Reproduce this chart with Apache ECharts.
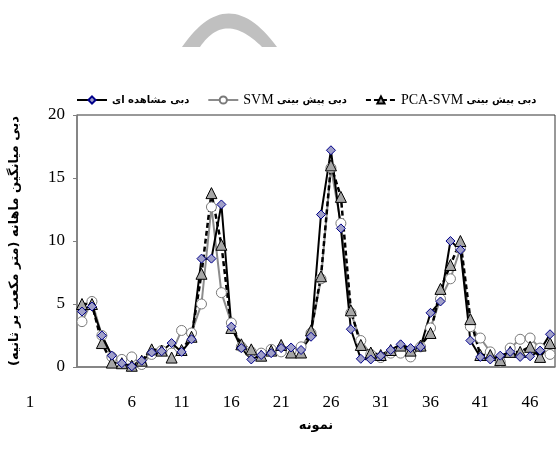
<!DOCTYPE html>
<html>
<head>
<meta charset="utf-8">
<script src="https://cdn.jsdelivr.net/npm/echarts@6/dist/echarts.min.js"></script>
<style>
    html, body { margin: 0; padding: 0; background: #fff; }
    #main { width: 557px; height: 451px; }
</style>
</head>
<body>
<div id="main"></div>
<script>
// شماره نمونه ها
var samples = [];
for (var i = 1; i <= 48; i++) samples.push(String(i));

// دبی مشاهده ای
var observed = [4.4, 4.8, 2.5, 0.9, 0.3, 0.05, 0.5, 1.15, 1.25, 1.9,
    1.2, 2.2, 8.6, 8.6, 12.9, 3.2, 1.5, 0.6, 0.95, 1.1,
    1.5, 1.55, 1.35, 2.4, 12.1, 17.2, 11.0, 3.0, 0.65, 0.6,
    0.9, 1.35, 1.8, 1.5, 1.6, 4.3, 5.2, 10.0, 9.3, 2.1,
    0.8, 0.6, 0.9, 1.2, 0.8, 0.85, 1.3, 2.6];

// دبی پیش بینی SVM
var svm = [3.6, 5.2, 2.5, 0.8, 0.6, 0.8, 0.2, 1.0, 1.3, 1.1,
    2.9, 2.7, 5.0, 12.7, 5.9, 3.5, 1.6, 1.2, 1.1, 1.4,
    1.2, 1.3, 1.6, 2.7, 7.0, 15.8, 11.4, 4.3, 2.1, 1.0,
    0.75, 1.1, 1.1, 0.8, 1.6, 3.1, 5.4, 7.0, 9.4, 3.2,
    2.3, 1.2, 0.4, 1.5, 2.2, 2.3, 1.5, 1.0];

// دبی پیش بینی PCA-SVM
var pcaSvm = [5.0, 5.0, 1.9, 0.35, 0.3, 0.1, 0.5, 1.4, 1.3, 0.75,
    1.35, 2.4, 7.4, 13.8, 9.7, 3.1, 1.8, 1.4, 0.9, 1.3,
    1.75, 1.15, 1.15, 2.9, 7.2, 16.0, 13.5, 4.5, 1.75, 1.15,
    0.95, 1.35, 1.7, 1.3, 1.7, 2.7, 6.2, 8.1, 10.0, 3.8,
    0.95, 0.95, 0.55, 1.2, 1.2, 1.6, 0.8, 1.9];

var yTicks = [0, 5, 10, 15, 20];

var serif = 'Liberation Serif, DejaVu Serif, serif';
var faFont = 'DejaVu Sans, sans-serif';

var nameObs = 'دبی مشاهده ای';
var nameSvm = 'دبی پیش بینی SVM';
var namePca = 'دبی پیش بینی PCA-SVM';

// شکل خاکستری بالای نمودار (کمان)
function quad(p0, p1, p2, n) {
    var pts = [];
    for (var k = 0; k <= n; k++) {
        var t = k / n;
        var a = (1 - t) * (1 - t), b = 2 * t * (1 - t), c = t * t;
        pts.push([a * p0[0] + b * p1[0] + c * p2[0], a * p0[1] + b * p1[1] + c * p2[1]]);
    }
    return pts;
}
var arcPts = quad([182, 47], [228, -20], [277, 47], 30)
    .concat(quad([262, 47], [225, 10], [200, 47], 30));

var myChart = echarts.init(document.getElementById('main'));
var option = {
    animation: false,
    backgroundColor: '#fff',
    graphic: [{
        type: 'polygon',
        shape: { points: arcPts },
        style: { fill: '#c0c0c0' },
        silent: true
    }],
    legend: {
        left: 76,
        top: 93,
        width: 481,
        itemGap: 18,
        itemWidth: 30,
        itemHeight: 9,
        padding: 0,
        data: [nameObs, nameSvm, namePca],
        formatter: function (name) {
            if (name === nameSvm) return '{en|SVM} {fa|دبی پیش بینی}';
            if (name === namePca) return '{en|PCA-SVM} {fa|دبی پیش بینی}';
            return '{fa|' + name + '}';
        },
        textStyle: {
            rich: {
                fa: { fontFamily: faFont, fontWeight: 'bold', fontSize: 10, color: '#000' },
                en: { fontFamily: serif, fontSize: 14, color: '#000' }
            }
        }
    },
    grid: {
        left: 74,
        right: 2,
        top: 115,
        bottom: 84,
        show: true,
        borderColor: '#333',
        borderWidth: 1
    },
    xAxis: {
        type: 'category',
        data: samples,
        boundaryGap: true,
        name: 'نمونه',
        nameLocation: 'middle',
        nameGap: 52,
        nameTextStyle: { fontFamily: faFont, fontWeight: 'bold', fontSize: 13, color: '#000' },
        axisLine: { lineStyle: { color: '#808080', width: 1.5 } },
        axisTick: { interval: 2, length: 5, lineStyle: { color: '#808080' } },
        axisLabel: {
            interval: 4,
            margin: 27,
            fontFamily: serif,
            fontSize: 17,
            color: '#000',
            formatter: function (v) {
                if (v === '1') return '{one|1}';
                return v;
            },
            rich: {
                one: { fontFamily: serif, fontSize: 17, color: '#000', padding: [0, 104, 0, 0] }
            }
        },
        splitLine: { show: false }
    },
    yAxis: {
        type: 'value',
        min: 0,
        max: 20,
        interval: 5,
        name: '\u200Fدبی میانگین ماهانه (متر مکعب بر ثانیه)\u200F',
        nameLocation: 'middle',
        nameRotate: 90,
        nameGap: 56,
        nameTextStyle: { fontFamily: faFont, fontWeight: 'bold', fontSize: 13, color: '#000' },
        axisLine: { show: true, lineStyle: { color: '#808080', width: 1.5 } },
        axisTick: { show: true, length: 4, lineStyle: { color: '#808080' } },
        axisLabel: {
            margin: 12,
            fontFamily: serif,
            fontSize: 17,
            color: '#000',
            formatter: function (v) { return yTicks.indexOf(v) >= 0 ? String(v) : ''; }
        },
        splitLine: { show: false }
    },
    series: [
        {
            name: nameSvm,
            type: 'line',
            data: svm,
            symbol: 'circle',
            symbolSize: 10,
            showAllSymbol: true,
            lineStyle: { color: '#8c8c8c', width: 2 },
            itemStyle: { color: '#fff', borderColor: '#7a7a7a', borderWidth: 1 }
        },
        {
            name: namePca,
            type: 'line',
            data: pcaSvm,
            symbol: 'triangle',
            symbolSize: 11,
            showAllSymbol: true,
            lineStyle: { color: '#000', width: 2.5, type: [5, 3] },
            itemStyle: { color: '#a6a6a6', borderColor: '#000', borderWidth: 1 }
        },
        {
            name: nameObs,
            type: 'line',
            data: observed,
            symbol: 'diamond',
            symbolSize: 9,
            showAllSymbol: true,
            lineStyle: { color: '#000', width: 2 },
            itemStyle: { color: '#a0a0c8', borderColor: '#00008b', borderWidth: 1 }
        }
    ]
};
myChart.setOption(option);
</script>
</body>
</html>
